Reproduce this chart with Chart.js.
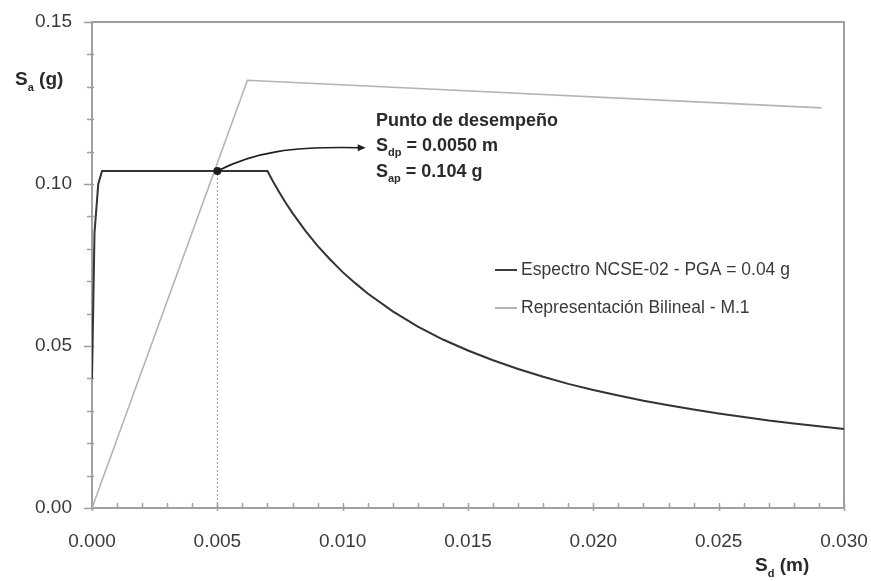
<!DOCTYPE html>
<html>
<head>
<meta charset="utf-8">
<script src="https://cdn.jsdelivr.net/npm/chart.js@4.4.1/dist/chart.umd.min.js"></script>
<style>
    html, body { margin: 0; padding: 0; background: #fff; }
    #wrap { width: 871px; height: 581px; position: relative; }
</style>
</head>
<body>
<div id="wrap"><canvas id="spectrumChart"></canvas></div>
<script>
// ========================================
// DATA
// ========================================

// Espectro NCSE-02 in Sd-Sa format
const spectrumSd = [0, 0.0001, 0.00025, 0.0004, 0.0070, 0.0072, 0.0075, 0.0077, 0.0080, 0.0085,
    0.0090, 0.0095, 0.0100, 0.0105, 0.0110, 0.0120, 0.0130, 0.0140, 0.0150, 0.0160, 0.0170,
    0.0180, 0.0190, 0.0200, 0.0210, 0.0220, 0.0230, 0.0240, 0.0250, 0.0260, 0.0270, 0.0280,
    0.0290, 0.0300];
const spectrumSa = [0.040, 0.085, 0.100, 0.104, 0.104, 0.1011, 0.0971, 0.0945, 0.0910, 0.0857,
    0.0809, 0.0767, 0.0728, 0.0694, 0.0662, 0.0607, 0.0560, 0.0520, 0.0486, 0.0456, 0.0429,
    0.0405, 0.0383, 0.0364, 0.0347, 0.0331, 0.0317, 0.0304, 0.0292, 0.0281, 0.0270, 0.0261,
    0.0252, 0.0244];

// Bilinear capacity curve
const bilinearSd = [0, 0.0062, 0.0291];
const bilinearSa = [0, 0.132, 0.1235];

// Performance point
const perfSd = 0.0050;
const perfSa = 0.104;

const xTickLabels = ['0.000', '0.005', '0.010', '0.015', '0.020', '0.025', '0.030'];
const yTickLabels = ['0.00', '0.05', '0.10', '0.15'];

const legendLabels = ['Espectro NCSE-02 - PGA = 0.04 g', 'Representación Bilineal - M.1'];

const FONT = '"Liberation Sans", Arial, sans-serif';
const TEXT = '#3a3a3a';
const AXIS = '#a0a0a0';

function toPoints(xs, ys) {
    return xs.map((x, i) => ({ x: x, y: ys[i] }));
}

// ========================================
// CUSTOM DRAWING (frame, ticks, titles, annotation, legend)
// ========================================

const decorPlugin = {
    id: 'decor',
    beforeDatasetsDraw(chart) {
        const { ctx, chartArea: a, scales: { x, y } } = chart;
        ctx.save();
        // frame
        ctx.strokeStyle = AXIS;
        ctx.lineWidth = 2;
        ctx.strokeRect(a.left, a.top, a.right - a.left, a.bottom - a.top);

        // tick marks
        ctx.lineWidth = 1.5;
        ctx.beginPath();
        for (let i = 0; i <= 30; i++) {
            const px = Math.round(x.getPixelForValue(i / 1000)) + 0.5;
            const major = i % 5 === 0;
            ctx.moveTo(px, a.bottom - 5);
            ctx.lineTo(px, a.bottom + (major ? 3 : 1));
        }
        for (let j = 0; j <= 15; j++) {
            const py = Math.round(y.getPixelForValue(j / 100)) + 0.5;
            const major = j % 5 === 0;
            ctx.moveTo(a.left - (major ? 8 : 5), py);
            ctx.lineTo(a.left + 2, py);
        }
        ctx.stroke();
        ctx.restore();
    },
    afterDatasetsDraw(chart) {
        const { ctx, scales: { x, y } } = chart;
        ctx.save();

        // arrow from performance point to its label
        const x0 = x.getPixelForValue(perfSd), y0 = y.getPixelForValue(perfSa);
        const c1x = x.getPixelForValue(0.0065), c1y = y.getPixelForValue(0.110);
        const c2x = x.getPixelForValue(0.0080), c2y = y.getPixelForValue(0.1116);
        const ex = x.getPixelForValue(0.0108), ey = y.getPixelForValue(0.1112);
        ctx.strokeStyle = '#1e1e1e';
        ctx.lineWidth = 1.6;
        ctx.beginPath();
        ctx.moveTo(x0, y0);
        ctx.bezierCurveTo(c1x, c1y, c2x, c2y, ex - 4, ey);
        ctx.stroke();
        ctx.fillStyle = '#1e1e1e';
        ctx.beginPath();
        ctx.moveTo(ex + 3, ey);
        ctx.lineTo(ex - 5, ey - 3.5);
        ctx.lineTo(ex - 5, ey + 3.5);
        ctx.closePath();
        ctx.fill();

        // performance point marker
        ctx.beginPath();
        ctx.arc(x0, y0, 4, 0, Math.PI * 2);
        ctx.fill();

        // annotation text
        ctx.fillStyle = '#2a2a2a';
        ctx.textAlign = 'left';
        const tx = 376;
        ctx.textBaseline = 'alphabetic';
        ctx.font = 'bold 18px ' + FONT;
        ctx.fillText('Punto de desempeño', tx, 126);
        drawSub(ctx, tx, 151, 'S', 'dp', ' = ' + perfSd.toFixed(4) + ' m', 18, 11, true);
        drawSub(ctx, tx, 177, 'S', 'ap', ' = ' + perfSa.toFixed(3) + ' g', 18, 11, true);

        // axis titles
        drawSub(ctx, 15, 85, 'S', 'a', ' (g)', 19, 11, true);
        drawSub(ctx, 755, 571, 'S', 'd', ' (m)', 19, 11, true);

        // legend
        const rows = [
            { label: legendLabels[0], color: '#3c3c3c', y: 270 },
            { label: legendLabels[1], color: '#b4b4b4', y: 308 }
        ];
        ctx.font = '17.5px ' + FONT;
        ctx.textBaseline = 'middle';
        rows.forEach(r => {
            ctx.strokeStyle = r.color;
            ctx.lineWidth = 2;
            ctx.beginPath();
            ctx.moveTo(495, r.y);
            ctx.lineTo(517, r.y);
            ctx.stroke();
            ctx.fillStyle = '#3a3a3a';
            ctx.fillText(r.label, 521, r.y);
        });
        ctx.restore();
    }
};

// text with a subscript after the first letter
function drawSub(ctx, x, y, main, sub, rest, size, subSize, bold) {
    const w = bold ? 'bold ' : '';
    ctx.textBaseline = 'alphabetic';
    ctx.font = w + size + 'px ' + FONT;
    ctx.fillText(main, x, y);
    let cx = x + ctx.measureText(main).width;
    ctx.font = w + subSize + 'px ' + FONT;
    ctx.fillText(sub, cx, y + size * 0.3);
    cx += ctx.measureText(sub).width;
    ctx.font = w + size + 'px ' + FONT;
    ctx.fillText(rest, cx, y);
}

// ========================================
// CHART
// ========================================

const ctx = document.getElementById('spectrumChart').getContext('2d');

new Chart(ctx, {
    type: 'scatter',
    data: {
        datasets: [
            {
                label: 'guide',
                data: toPoints([perfSd, perfSd], [0, perfSa]),
                showLine: true,
                borderColor: '#9a9a9a',
                borderWidth: 1,
                borderDash: [2, 2],
                pointRadius: 0
            },
            {
                label: legendLabels[1],
                data: toPoints(bilinearSd, bilinearSa),
                showLine: true,
                borderColor: '#b4b4b4',
                borderWidth: 1.6,
                pointRadius: 0
            },
            {
                label: legendLabels[0],
                data: toPoints(spectrumSd, spectrumSa),
                showLine: true,
                borderColor: '#333333',
                borderWidth: 2,
                pointRadius: 0
            }
        ]
    },
    options: {
        responsive: true,
        maintainAspectRatio: false,
        animation: false,
        layout: {
            padding: { top: 22, right: 27, left: 0, bottom: 0 }
        },
        plugins: {
            legend: { display: false },
            tooltip: { enabled: false }
        },
        scales: {
            x: {
                type: 'linear',
                min: 0,
                max: 0.030,
                border: { display: false },
                grid: { display: false, drawTicks: false },
                afterFit(axis) {
                    axis.height = 73;
                    axis.paddingLeft = 0;
                    axis.paddingRight = 0;
                },
                afterBuildTicks(axis) {
                    axis.ticks = xTickLabels.map(t => ({ value: parseFloat(t) }));
                },
                ticks: {
                    padding: 22,
                    maxRotation: 0,
                    color: TEXT,
                    font: { family: FONT, size: 19 },
                    callback: (v, i) => xTickLabels[i]
                }
            },
            y: {
                type: 'linear',
                min: 0,
                max: 0.15,
                border: { display: false },
                grid: { display: false, drawTicks: false },
                afterFit(axis) {
                    axis.width = 92;
                    axis.paddingTop = 0;
                    axis.paddingBottom = 0;
                },
                afterBuildTicks(axis) {
                    axis.ticks = yTickLabels.map(t => ({ value: parseFloat(t) }));
                },
                ticks: {
                    padding: 20,
                    color: TEXT,
                    font: { family: FONT, size: 19 },
                    callback: (v, i) => yTickLabels[i]
                }
            }
        }
    },
    plugins: [decorPlugin]
});
</script>
</body>
</html>
